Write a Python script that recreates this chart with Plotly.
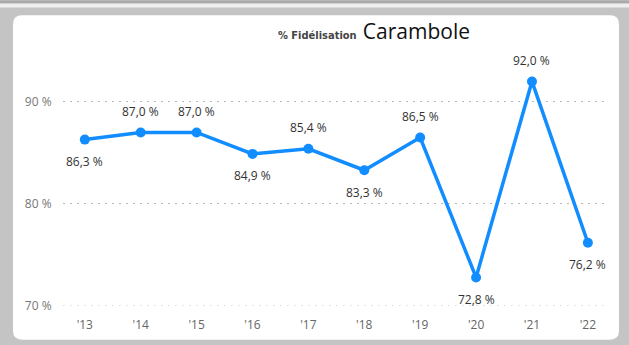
import plotly.graph_objects as go

# Loyalty rate by season
seasons = ["'13", "'14", "'15", "'16", "'17", "'18", "'19", "'20", "'21", "'22"]
fidelisation = [86.3, 87.0, 87.0, 84.9, 85.4, 83.3, 86.5, 72.8, 92.0, 76.2]
label_side = ["bottom", "top", "top", "bottom", "top", "bottom", "top", "bottom", "top", "bottom"]
y_ticks = [70, 80, 90]

W, H = 629, 345
ML, MR, MT, MB = 63, 21, 61, 37
PW, PH = W - ML - MR, H - MT - MB
GRID = dict(color="#b8b8b8", width=1, dash="1.5px,5.5px")


def px(x):
    return (x - ML) / PW


def py(y):
    return (H - MB - y) / PH


def fr(v):
    return f"{v:.1f}".replace(".", ",") + " %"


fig = go.Figure()
fig.add_trace(go.Scatter(
    x=list(range(len(seasons))),
    y=fidelisation,
    mode="lines+markers",
    line=dict(color="#118DFF", width=3.5),
    marker=dict(color="#118DFF", size=10),
    cliponaxis=False,
    hoverinfo="skip",
))

# Data labels, alternating above / below the points
labels = [
    dict(x=i, y=v, xref="x", yref="y", text=fr(v), showarrow=False,
         yshift=21 if side == "top" else -22,
         font=dict(family="Open Sans", size=12, color="#333333"))
    for i, (v, side) in enumerate(zip(fidelisation, label_side))
]

# Card with rounded corners on a grey frame
x0, x1, y0, y1, r = px(13), px(619), py(15), py(342), 9
rx, ry = r / PW, r / PH
card = (f"M {x0+rx},{y0} L {x1-rx},{y0} Q {x1},{y0} {x1},{y0-ry} "
        f"L {x1},{y1+ry} Q {x1},{y1} {x1-rx},{y1} "
        f"L {x0+rx},{y1} Q {x0},{y1} {x0},{y1+ry} "
        f"L {x0},{y0-ry} Q {x0},{y0} {x0+rx},{y0} Z")
shapes = [
    dict(type="rect", xref="paper", yref="paper", x0=px(0), x1=px(W), y0=py(0), y1=py(3),
         fillcolor="#a9a9a9", line_width=0, layer="below"),
    dict(type="rect", xref="paper", yref="paper", x0=px(0), x1=px(W), y0=py(3), y1=py(7),
         fillcolor="#eeeeee", line_width=0, layer="below"),
    dict(type="path", xref="paper", yref="paper", path=card,
         fillcolor="#ffffff", line_width=0, layer="below"),
    # gridline at the bottom edge of the axis range
    dict(type="line", xref="paper", yref="y", x0=0, x1=1, y0=y_ticks[0], y1=y_ticks[0],
         line=GRID, layer="below"),
]

title = dict(
    xref="paper", yref="paper", x=px(374), y=py(31), xanchor="center", yanchor="middle",
    showarrow=False,
    text=("<span style='font-family:DejaVu Sans Condensed;font-size:11px;color:#444444'><b>% Fidélisation</b></span>"
          "  <span style='font-family:Open Sans;font-size:21px;color:#111111'>Carambole</span>"),
)

fig.update_layout(
    width=W, height=H,
    margin=dict(l=ML, r=MR, t=MT, b=MB),
    paper_bgcolor="#c4c4c4",
    plot_bgcolor="rgba(0,0,0,0)",
    showlegend=False,
    shapes=shapes,
    annotations=[title] + labels,
    xaxis=dict(
        range=[-0.39, 9.36], tickvals=list(range(len(seasons))), ticktext=seasons,
        showgrid=False, zeroline=False, showline=False,
        tickfont=dict(family="Open Sans", size=12, color="#666666"),
        ticks="outside", ticklen=8, tickcolor="rgba(0,0,0,0)",
    ),
    yaxis=dict(
        range=[70, 94], tickvals=y_ticks, ticktext=[f"{v} %" for v in y_ticks],
        showgrid=True, gridcolor=GRID["color"], gridwidth=1, griddash=GRID["dash"],
        zeroline=False, showline=False,
        tickfont=dict(family="Open Sans", size=12, color="#777777"),
        ticks="outside", ticklen=8, tickcolor="rgba(0,0,0,0)",
    ),
)

fig.write_html("out.html")
